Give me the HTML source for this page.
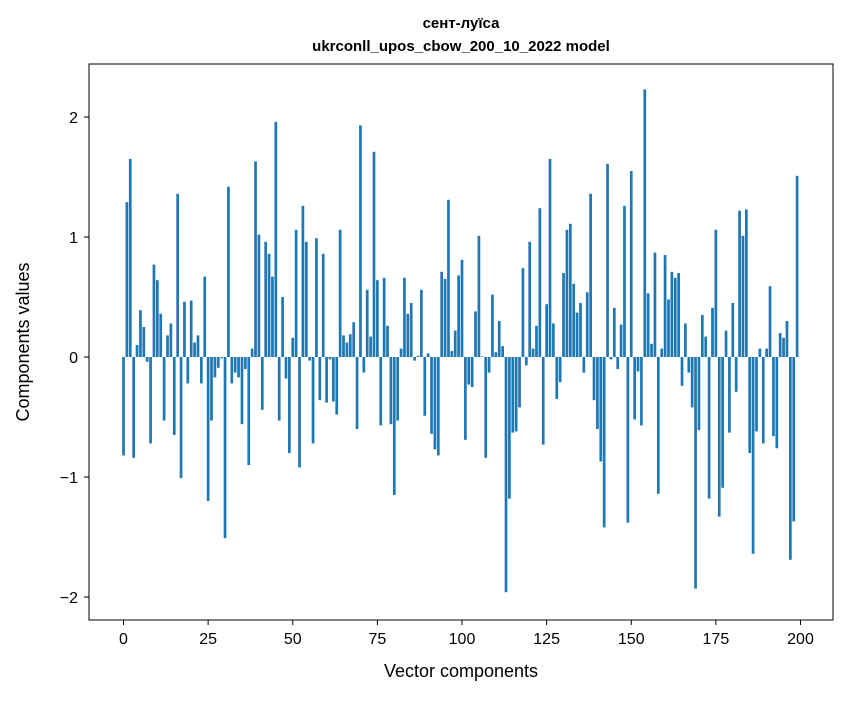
<!DOCTYPE html>
<html><head><meta charset="utf-8"><style>
body{margin:0;background:#fff;}
svg text{font-family:"Liberation Sans","DejaVu Sans",sans-serif;fill:#000;}
</style></head><body>
<svg width="847" height="696" xmlns="http://www.w3.org/2000/svg">
<text x="461" y="28" text-anchor="middle" font-size="15" font-weight="bold">сент-луїса</text>
<text x="461" y="51" text-anchor="middle" font-size="15" font-weight="bold">ukrconll_upos_cbow_200_10_2022 model</text>
<g id="bars"></g>
<g id="xticks"></g>
<g id="yticks"></g>
<rect x="89" y="64" width="744" height="556" fill="none" stroke="#000" stroke-width="1"/>
<text x="461" y="677" text-anchor="middle" font-size="18">Vector components</text>
<text transform="translate(29,342) rotate(-90)" text-anchor="middle" font-size="18">Components values</text>
</svg>
<script>
const values=[-0.82,1.29,1.65,-0.84,0.10,0.39,0.25,-0.04,-0.72,0.77,0.64,0.36,-0.53,0.18,0.28,-0.65,1.36,-1.01,0.46,-0.22,
0.47,0.12,0.18,-0.22,0.67,-1.20,-0.53,-0.17,-0.09,-0.01,-1.51,1.42,-0.22,-0.13,-0.17,-0.56,-0.10,-0.90,0.07,1.63,
1.02,-0.44,0.96,0.86,0.67,1.96,-0.53,0.50,-0.18,-0.80,0.16,1.06,-0.92,1.26,0.96,-0.03,-0.72,0.99,-0.36,0.86,
-0.38,-0.02,-0.37,-0.48,1.06,0.18,0.12,0.19,0.29,-0.60,1.93,-0.13,0.56,0.17,1.71,0.64,-0.57,0.66,0.26,-0.56,
-1.15,-0.53,0.07,0.66,0.36,0.45,-0.03,0.01,0.56,-0.49,0.03,-0.64,-0.77,-0.82,0.71,0.65,1.31,0.05,0.22,0.68,
0.81,-0.69,-0.23,-0.25,0.38,1.01,0.005,-0.84,-0.13,0.52,0.04,0.30,0.09,-1.96,-1.18,-0.63,-0.62,-0.42,0.74,-0.07,
0.96,0.07,0.26,1.24,-0.73,0.44,1.65,0.28,-0.35,-0.21,0.70,1.06,1.11,0.61,0.37,0.45,-0.13,0.54,1.36,-0.36,
-0.60,-0.87,-1.42,1.61,-0.02,0.41,-0.10,0.27,1.26,-1.38,1.55,-0.52,-0.12,-0.57,2.23,0.53,0.11,0.87,-1.14,0.07,
0.85,0.48,0.71,0.66,0.70,-0.24,0.28,-0.13,-0.42,-1.93,-0.61,0.35,0.17,-1.18,0.41,1.06,-1.33,-1.09,0.22,-0.63,
0.45,-0.29,1.22,1.01,1.23,-0.80,-1.64,-0.62,0.07,-0.72,0.07,0.59,-0.66,-0.76,0.20,0.16,0.30,-1.69,-1.37,1.51];
const xTicks=[0,25,50,75,100,125,150,175,200];
const yTicks=[-2,-1,0,1,2];
const NS='http://www.w3.org/2000/svg';
function xs(v){return 123.5+3.385*v;}
function ys(v){return 357-120*v;}
const gb=document.getElementById('bars');
values.forEach((v,i)=>{
 const r=document.createElementNS(NS,'rect');
 
 
 const w=3.385*0.8;
 r.setAttribute('x',xs(i)-w/2);
 r.setAttribute('width',w);
 r.setAttribute('y',Math.min(ys(v),ys(0)));
 r.setAttribute('height',Math.abs(ys(v)-ys(0)));
 r.setAttribute('fill','#1f77b4');
 gb.appendChild(r);
});
const gx=document.getElementById('xticks');
xTicks.forEach(t=>{
 const l=document.createElementNS(NS,'line');
 
 
 l.setAttribute('x1',xs(t));l.setAttribute('x2',xs(t));l.setAttribute('y1',620);l.setAttribute('y2',625);l.setAttribute('stroke','#000');
 gx.appendChild(l);
 const tx=document.createElementNS(NS,'text');
 
 
 tx.setAttribute('x',xs(t));tx.setAttribute('y',644);tx.setAttribute('text-anchor','middle');tx.setAttribute('font-size','16');
 tx.textContent=t;gx.appendChild(tx);
});
const gy=document.getElementById('yticks');
yTicks.forEach(t=>{
 const l=document.createElementNS(NS,'line');
 
 
 l.setAttribute('x1',84);l.setAttribute('x2',89);l.setAttribute('y1',ys(t));l.setAttribute('y2',ys(t));l.setAttribute('stroke','#000');
 gy.appendChild(l);
 const tx=document.createElementNS(NS,'text');
 
 
 tx.setAttribute('x',78);tx.setAttribute('y',ys(t)+6);tx.setAttribute('text-anchor','end');tx.setAttribute('font-size','16');
 tx.textContent=t<0?'\u2212'+Math.abs(t):t;gy.appendChild(tx);
});
</script>
</body></html>
